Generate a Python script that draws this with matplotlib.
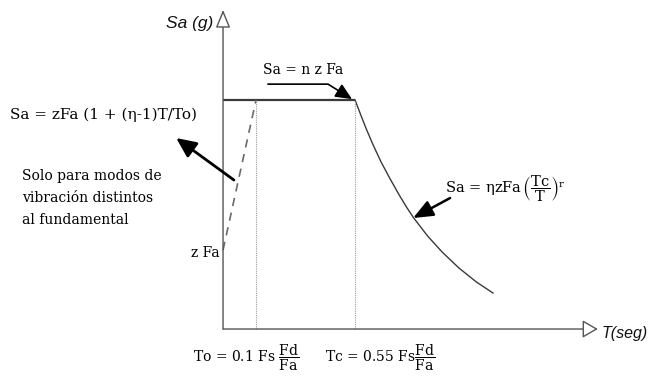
import matplotlib
matplotlib.use("Agg")
import matplotlib.pyplot as plt

plt.rcParams['font.family'] = ['DejaVu Serif']
plt.rcParams['mathtext.fontset'] = 'dejavuserif'

# spectrum parameters (drawing units, not to scale)
zFa = 1.0
eta = 2.9
To = 0.1
Tc = 0.4

# descending branch Sa = eta*zFa*(Tc/T)^r, as sketched
curve_T = [0.400, 0.414, 0.433, 0.455, 0.479, 0.505, 0.534, 0.556,
           0.578, 0.620, 0.664, 0.715, 0.768, 0.818]
curve_Sa = [2.90, 2.747, 2.544, 2.329, 2.114, 1.911, 1.696, 1.544,
            1.405, 1.177, 0.975, 0.772, 0.595, 0.456]

# axis extents
T_END = 1.136
SA_END = 4.04

fig = plt.figure(figsize=(6.49, 3.81), dpi=100)
ax = fig.add_axes([0, 0, 1, 1])
ax.set_xlim(-0.676, 1.291)
ax.set_ylim(-0.658, 4.165)
ax.axis('off')

line_col = '#3a3a3a'
axis_font = ['Liberation Sans', 'DejaVu Sans']

# axes with hollow arrow heads
ax.annotate('', xy=(0, SA_END), xytext=(0, 0),
            arrowprops=dict(arrowstyle='-|>,head_length=1.1,head_width=0.45',
                            fc='white', ec='#555555', lw=1.0, mutation_scale=10,
                            shrinkA=0, shrinkB=0))
ax.annotate('', xy=(T_END, 0), xytext=(0, 0),
            arrowprops=dict(arrowstyle='-|>,head_length=0.95,head_width=0.55',
                            fc='white', ec='#555555', lw=1.0, mutation_scale=10,
                            shrinkA=0, shrinkB=0))

# plateau and descending branch
ax.plot([0, Tc], [eta * zFa, eta * zFa], color=line_col, lw=1.6,
        solid_capstyle='butt')
ax.plot(curve_T, curve_Sa, color=line_col, lw=1.0, solid_joinstyle='round')

# linear rise for higher modes
dash, = ax.plot([0, To], [zFa, eta * zFa], color='#6a6a6a', lw=1.2)
dash.set_dashes((5, 4))

# To and Tc markers
for t in (To, Tc):
    ax.plot([t, t], [0, eta * zFa], color='#9a9a9a', lw=0.8, ls=(0, (1, 1)))

# axis titles
ax.text(-0.030, 3.87, 'Sa (g)', ha='right', va='center', fontsize=12.5,
        style='italic', family=axis_font, color='#111111')
ax.text(1.146, -0.06, 'T(seg)', ha='left', va='center', fontsize=11.5,
        style='italic', family=axis_font, color='#111111')

# annotations
ax.text(-0.645, 2.709, 'Sa = zFa (1 + (η-1)T/To)', ha='left', va='center',
        fontsize=11)
ax.text(-0.609, 1.658, 'Solo para modos de\nvibración distintos\nal fundamental',
        ha='left', va='center', fontsize=10, linespacing=1.75)
ax.text(-0.009, 0.962, 'z Fa', ha='right', va='center', fontsize=10)
ax.text(0.242, 3.278, 'Sa = n z Fa', ha='center', va='center', fontsize=10)

ax.text(0.673, 1.78,
        r'Sa = ηzFa$\,\left(\dfrac{\mathrm{Tc}}{\mathrm{T}}\right)^{\mathrm{r}}$',
        ha='left', va='center', fontsize=10.5)
ax.text(-0.091, -0.367, r'To = 0.1 Fs $\dfrac{\mathrm{Fd}}{\mathrm{Fa}}$',
        ha='left', va='center', fontsize=10)
ax.text(0.309, -0.367, r'Tc = 0.55 Fs$\dfrac{\mathrm{Fd}}{\mathrm{Fa}}$',
        ha='left', va='center', fontsize=10)

# pointer arrows
ax.annotate('', xy=(0.391, 2.91), xytext=(0.136, 3.10),
            arrowprops=dict(arrowstyle='-|>,head_length=1.0,head_width=0.45',
                            fc='black', ec='black', lw=1.2, mutation_scale=10,
                            shrinkA=0, shrinkB=0,
                            connectionstyle='angle,angleA=0,angleB=148,rad=0'))
ax.annotate('', xy=(-0.142, 2.418), xytext=(0.033, 1.886),
            arrowprops=dict(arrowstyle='-|>,head_length=1.2,head_width=0.55',
                            fc='black', ec='black', lw=2.0, mutation_scale=10,
                            shrinkA=0, shrinkB=0))
ax.annotate('', xy=(0.576, 1.405), xytext=(0.688, 1.658),
            arrowprops=dict(arrowstyle='-|>,head_length=1.2,head_width=0.5',
                            fc='black', ec='black', lw=1.8, mutation_scale=10,
                            shrinkA=0, shrinkB=0))

fig.savefig('out.png', dpi=100)
